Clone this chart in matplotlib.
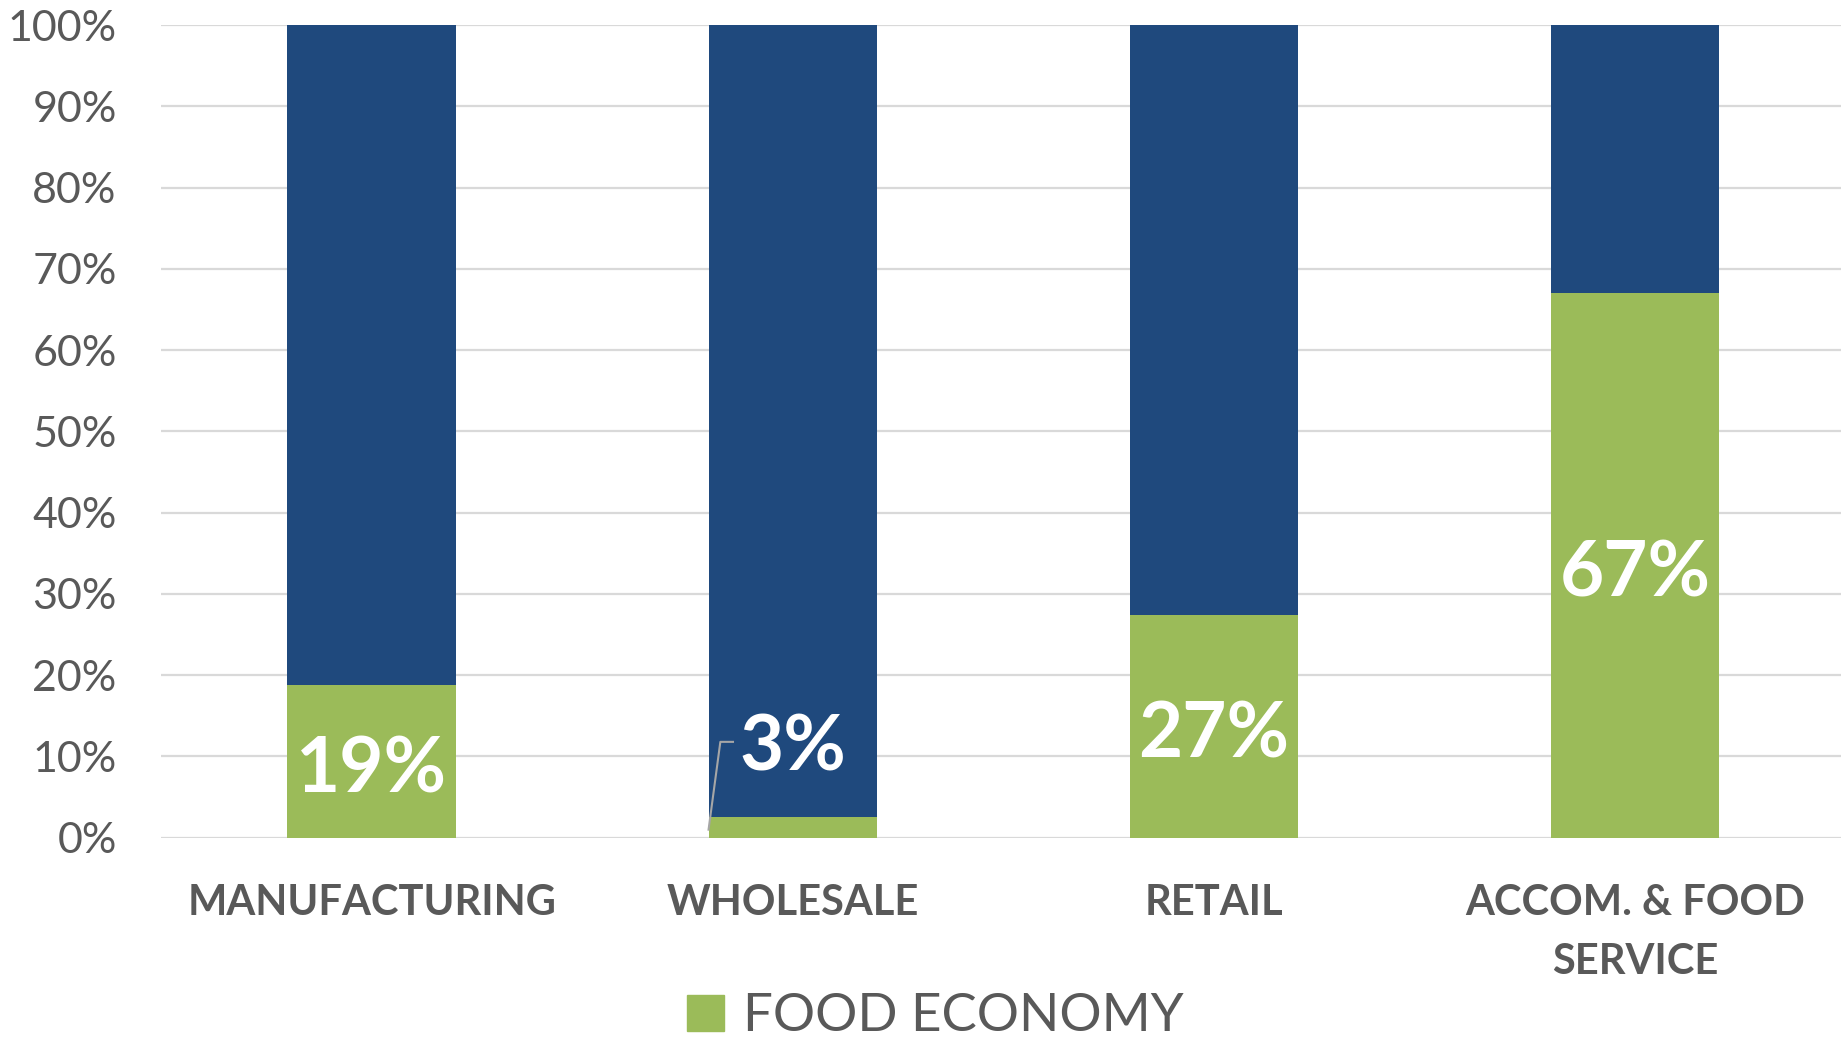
import numpy as np
import matplotlib.pyplot as plt
from matplotlib.patches import Patch

categories = ["MANUFACTURING", "WHOLESALE", "RETAIL", "ACCOM. & FOOD\nSERVICE"]
food_share = [0.188, 0.025, 0.274, 0.67]
food_labels = ["19%", "3%", "27%", "67%"]
other_share = [1 - v for v in food_share]

GREEN = "#9BBB59"
BLUE = "#1F497D"
GREY = "#595959"
GRID = "#D9D9D9"

plt.rcParams['font.family'] = ['Lato', 'DejaVu Sans']

fig = plt.figure(figsize=(18.41, 10.42), dpi=100)
ax = fig.add_axes([0.0875, 0.196, 0.915, 0.780])

x = np.arange(len(categories))
w = 0.4
ax.bar(x, food_share, w, color=GREEN, label="FOOD ECONOMY", zorder=2)
ax.bar(x, other_share, w, bottom=food_share, color=BLUE, label="_nolegend_", zorder=2)

ax.set_xlim(-0.5, len(categories) - 0.5)
ax.set_ylim(0, 1)
ax.set_yticks(np.arange(0, 1.01, 0.1))
ax.set_yticklabels(["{:.0f}%".format(v * 100) for v in np.arange(0, 1.01, 0.1)])
ax.set_xticks(x)
ax.set_xticklabels(categories, fontweight='bold', linespacing=1.68)
ax.tick_params(axis='y', length=0, pad=32, labelsize=31, labelcolor=GREY)
ax.tick_params(axis='x', length=0, pad=33, labelsize=30, labelcolor=GREY)
ax.yaxis.grid(True, color=GRID, linewidth=1.6, zorder=0)
ax.set_axisbelow(True)
for s in ax.spines.values():
    s.set_visible(False)

# data labels
for i, (v, lab) in enumerate(zip(food_share, food_labels)):
    if v > 0.1:
        ax.text(i, v / 2 - 0.011, lab, ha='center', va='center', color='white',
                fontsize=55, fontweight='bold', zorder=3)
    else:
        ty = 0.11
        ax.text(i, ty, lab, ha='center', va='center', color='white',
                fontsize=55, fontweight='bold', zorder=3)
        x0 = i - w / 2
        ax.plot([x0, x0 + 0.028, x0 + 0.058], [v * 0.4, ty + 0.008, ty + 0.008],
                color="#A6A6A6", linewidth=1.5, zorder=3)

fig.legend(handles=[Patch(color=GREEN, label="FOOD ECONOMY")],
           loc='center', bbox_to_anchor=(0.508, 0.024), frameon=False,
           fontsize=38, handlelength=0.7, handleheight=0.7, handletextpad=0.35,
           labelcolor=GREY, borderpad=0.2)

fig.savefig("out.png", dpi=100)
